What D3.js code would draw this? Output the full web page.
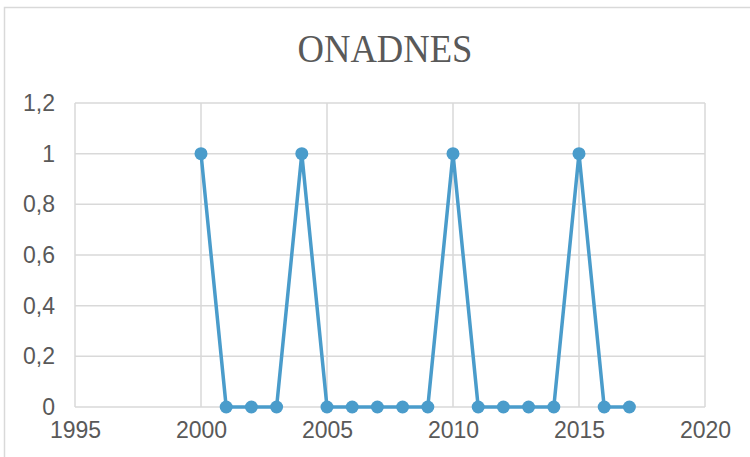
<!DOCTYPE html>
<html>
<head>
<meta charset="utf-8">
<script src="https://cdn.jsdelivr.net/npm/d3@7"></script>
<style>
  body { margin: 0; background: #fff; }
  text { font-family: "Liberation Sans", Arial, sans-serif; fill: #595959; }
</style>
</head>
<body>
<div class="chart-container"></div>
<script>
// Data
const years = [2000, 2001, 2002, 2003, 2004, 2005, 2006, 2007, 2008, 2009,
               2010, 2011, 2012, 2013, 2014, 2015, 2016, 2017];
const values = [1, 0, 0, 0, 1, 0, 0, 0, 0, 0, 1, 0, 0, 0, 0, 1, 0, 0];
const xTicks = [1995, 2000, 2005, 2010, 2015, 2020];
const yTicks = [0, 0.2, 0.4, 0.6, 0.8, 1, 1.2];
const title = "ONADNES";

const width = 750, height = 457;
const margin = { top: 103, right: 45, bottom: 50, left: 75 };
const lineColor = "#4a9ccb", gridColor = "#d9d9d9";

const svg = d3.select(".chart-container").append("svg")
  .attr("width", width).attr("height", height);

// outer chart border
svg.append("rect")
  .attr("x", 4.5).attr("y", 7.5)
  .attr("width", width).attr("height", height)
  .attr("fill", "none").attr("stroke", gridColor).attr("stroke-width", 1.5);

// Scales
const x = d3.scaleLinear().domain([1995, 2020]).range([margin.left, width - margin.right]);
const y = d3.scaleLinear().domain([0, 1.2]).range([height - margin.bottom, margin.top]);

// Title
svg.append("text")
  .attr("x", 385).attr("y", 62)
  .attr("text-anchor", "middle")
  .attr("textLength", 175).attr("lengthAdjust", "spacingAndGlyphs")
  .style("font-family", "'Liberation Serif', 'Times New Roman', serif")
  .style("font-size", "39px")
  .text(title);

// Grid lines
const grid = svg.append("g");
grid.selectAll(".hgrid")
  .data(yTicks)
  .enter().append("line")
  .attr("x1", x(1995)).attr("x2", x(2020))
  .attr("y1", d => y(d)).attr("y2", d => y(d))
  .attr("stroke", gridColor).attr("stroke-width", 1.5);
grid.selectAll(".vgrid")
  .data(xTicks)
  .enter().append("line")
  .attr("x1", d => x(d)).attr("x2", d => x(d))
  .attr("y1", y(0)).attr("y2", y(1.2))
  .attr("stroke", gridColor).attr("stroke-width", 1.5);

// Axes
const fmt = d => d3.format("~g")(d).replace(".", ",");
const yAxis = svg.append("g")
  .attr("transform", `translate(${margin.left},0)`)
  .call(d3.axisLeft(y).tickValues(yTicks).tickFormat(fmt).tickSize(0).tickPadding(20));
yAxis.select(".domain").remove();
yAxis.selectAll("text").style("font-size", "23px").attr("dy", "0.33em");

const xAxis = svg.append("g")
  .attr("transform", `translate(0,${y(0)})`)
  .call(d3.axisBottom(x).tickValues(xTicks).tickFormat(d3.format("d")).tickSize(0).tickPadding(15));
xAxis.select(".domain").remove();
xAxis.selectAll("text").style("font-size", "23px");

// Line + markers
const line = d3.line().x((d, i) => x(years[i])).y(d => y(d));
svg.append("path")
  .datum(values)
  .attr("d", line)
  .attr("fill", "none")
  .attr("stroke", lineColor)
  .attr("stroke-width", 3.5)
  .attr("stroke-linejoin", "round");

svg.selectAll(".dot")
  .data(values)
  .enter().append("circle")
  .attr("cx", (d, i) => x(years[i]))
  .attr("cy", d => y(d))
  .attr("r", 6.5)
  .attr("fill", lineColor);
</script>
</body>
</html>
